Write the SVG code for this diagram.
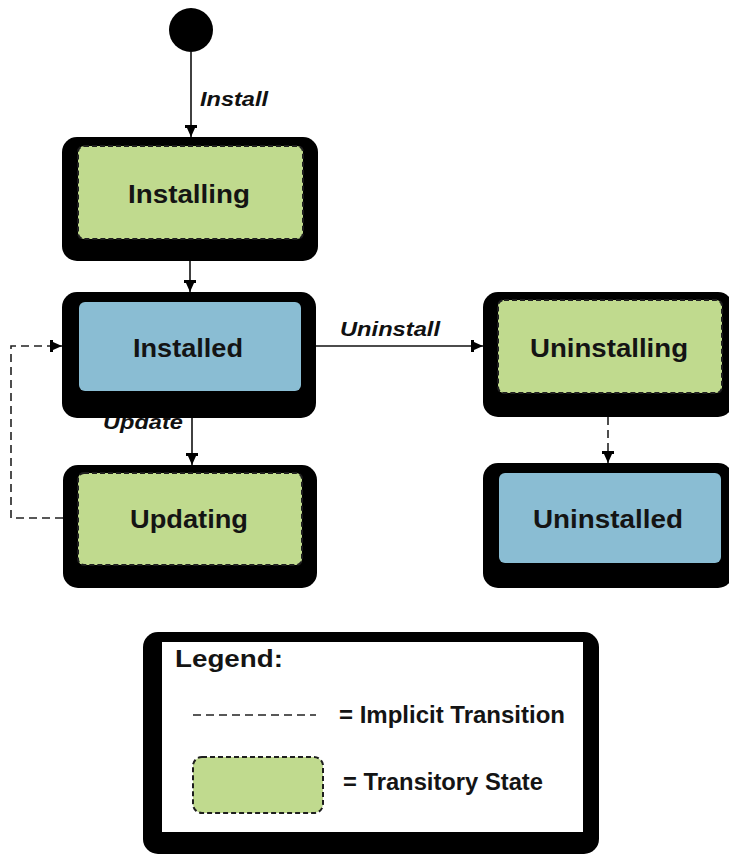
<svg xmlns="http://www.w3.org/2000/svg" width="729" height="855" viewBox="0 0 729 855">
  <defs>
    <style>
      .frame { fill: #000; }
      .transitory { fill: #c0da8e; stroke: #1e1e1e; stroke-width: 2; stroke-dasharray: 5 3; }
      .stable { fill: #8abdd3; }
      .label { font-family: "Liberation Sans", Arial, sans-serif; font-weight: bold; font-size: 25px; fill: #141414; text-anchor: middle; }
      .edge-label { font-family: "Liberation Sans", Arial, sans-serif; font-weight: bold; font-style: italic; font-size: 20px; fill: #111; }
      .legend-text { font-family: "Liberation Sans", Arial, sans-serif; font-weight: bold; font-size: 23px; fill: #141414; }
      .wire { fill: none; stroke: #111; stroke-width: 1.6; }
      .implicit { fill: none; stroke: #222; stroke-width: 1.6; stroke-dasharray: 8 5; }
    </style>
    <marker id="head" markerUnits="userSpaceOnUse" markerWidth="14" markerHeight="14" refX="12" refY="7" orient="auto">
      <path d="M0,1 L3,1 L3,3 L12,7 L3,11 L3,13 L0,13 Z" fill="#000"/>
    </marker>
  </defs>

  <!-- initial pseudo-state -->
  <g id="start">
    <circle cx="191" cy="30" r="22" fill="#000"/>
  </g>

  <!-- transitions (the Update label sits under the Installed frame, so it is drawn first) -->
  <g id="connectors">
    <text class="edge-label" x="103" y="429" textLength="80" lengthAdjust="spacingAndGlyphs">Update</text>
    <line class="wire" x1="191" y1="52" x2="191" y2="137" marker-end="url(#head)"/>
    <line class="wire" x1="190" y1="261" x2="190" y2="292" marker-end="url(#head)"/>
    <line class="wire" x1="192" y1="418" x2="192" y2="465" marker-end="url(#head)"/>
    <line class="wire" x1="316" y1="346" x2="483" y2="346" marker-end="url(#head)"/>
    <line class="implicit" x1="608" y1="417" x2="608" y2="463" marker-end="url(#head)"/>
    <polyline class="implicit" points="63,518 11,518 11,346 62,346" marker-end="url(#head)"/>
    <text class="edge-label" x="200" y="106" textLength="68" lengthAdjust="spacingAndGlyphs">Install</text>
    <text class="edge-label" x="340" y="336" textLength="100" lengthAdjust="spacingAndGlyphs">Uninstall</text>
  </g>

  <!-- states -->
  <g id="installing">
    <rect class="frame" x="62" y="137" width="256" height="124" rx="15"/>
    <rect class="transitory" x="78" y="146" width="225" height="93" rx="6"/>
    <text class="label" x="189" y="203" textLength="122" lengthAdjust="spacingAndGlyphs">Installing</text>
  </g>

  <g id="installed">
    <rect class="frame" x="62" y="292" width="254" height="126" rx="15"/>
    <rect class="stable" x="79" y="302" width="222" height="89" rx="6"/>
    <text class="label" x="188" y="357" textLength="110" lengthAdjust="spacingAndGlyphs">Installed</text>
  </g>

  <g id="updating">
    <rect class="frame" x="63" y="465" width="254" height="123" rx="15"/>
    <rect class="transitory" x="78" y="473" width="224" height="92" rx="6"/>
    <text class="label" x="189" y="528" textLength="118" lengthAdjust="spacingAndGlyphs">Updating</text>
  </g>

  <g id="uninstalling">
    <rect class="frame" x="483" y="292" width="250" height="125" rx="15"/>
    <rect class="transitory" x="498" y="300" width="224" height="93" rx="6"/>
    <text class="label" x="609" y="357" textLength="158" lengthAdjust="spacingAndGlyphs">Uninstalling</text>
  </g>

  <g id="uninstalled">
    <rect class="frame" x="483" y="463" width="250" height="125" rx="15"/>
    <rect class="stable" x="499" y="473" width="222" height="90" rx="6"/>
    <text class="label" x="608" y="528" textLength="150" lengthAdjust="spacingAndGlyphs">Uninstalled</text>
  </g>

  <!-- legend -->
  <g id="legend">
    <rect class="frame" x="143" y="632" width="456" height="222" rx="15"/>
    <rect x="162" y="642" width="421" height="190" fill="#fff"/>
    <text class="legend-text" x="175" y="667" font-size="22" textLength="108" lengthAdjust="spacingAndGlyphs">Legend:</text>
    <line class="implicit" x1="193" y1="715" x2="316" y2="715"/>
    <text class="legend-text" x="339" y="723" textLength="226" lengthAdjust="spacingAndGlyphs">= Implicit Transition</text>
    <rect class="transitory" x="193" y="757" width="130" height="56" rx="9"/>
    <text class="legend-text" x="343" y="790" textLength="200" lengthAdjust="spacingAndGlyphs">= Transitory State</text>
  </g>
</svg>
